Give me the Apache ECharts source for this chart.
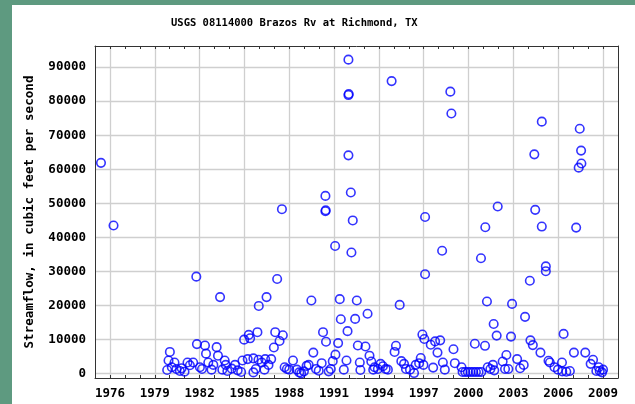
<!DOCTYPE html>
<html><head><meta charset="utf-8">
<script src="https://cdn.jsdelivr.net/npm/echarts@6/dist/echarts.min.js"></script>
<style>html,body{margin:0;padding:0;background:#fff}#c{width:635px;height:404px}</style>
</head><body><div id="c"></div>
<script>
const titleText = 'USGS 08114000 Brazos Rv at Richmond, TX';
const yAxisName = 'Streamflow, in cubic feet per second';
const yTicks = [0, 10000, 20000, 30000, 40000, 50000, 60000, 70000, 80000, 90000];
const xLabelYears = [1976, 1979, 1982, 1985, 1988, 1991, 1994, 1997, 2000, 2003, 2006, 2009];
const years = [
  1975.4, 1976.24, 1979.83, 1979.92, 1980.01, 1980.14, 1980.32, 1980.45, 1980.68, 1980.8,
  1980.99, 1981.19, 1981.35, 1981.57, 1981.78, 1981.82, 1982.02, 1982.16, 1982.36, 1982.43,
  1982.58, 1982.8, 1982.92, 1983.14, 1983.23, 1983.37, 1983.52, 1983.68, 1983.75, 1983.86,
  1984.15, 1984.37, 1984.55, 1984.78, 1984.87, 1984.98, 1985.22, 1985.29, 1985.38, 1985.6,
  1985.6, 1985.76, 1985.87, 1985.94, 1985.96, 1986.16, 1986.34, 1986.39, 1986.48, 1986.61,
  1986.79, 1986.97, 1987.06, 1987.19, 1987.35, 1987.51, 1987.57, 1987.69, 1987.84, 1988.0,
  1988.25, 1988.51, 1988.67, 1988.8, 1988.98, 1989.16, 1989.3, 1989.48, 1989.61, 1989.79,
  1989.97, 1990.17, 1990.26, 1990.42, 1990.42, 1990.44, 1990.46, 1990.64, 1990.78, 1990.91,
  1991.07, 1991.09, 1991.27, 1991.38, 1991.45, 1991.65, 1991.83, 1991.9, 1991.96, 1991.96,
  1991.98, 1991.96, 1992.12, 1992.16, 1992.25, 1992.41, 1992.52, 1992.59, 1992.72, 1992.76,
  1993.1, 1993.24, 1993.37, 1993.49, 1993.62, 1993.71, 1993.93, 1994.11, 1994.27, 1994.45,
  1994.6, 1994.85, 1995.05, 1995.14, 1995.39, 1995.5, 1995.68, 1995.81, 1996.08, 1996.35,
  1996.46, 1996.69, 1996.8, 1996.91, 1996.98, 1997.04, 1997.09, 1997.09, 1997.47, 1997.63,
  1997.76, 1997.92, 1998.1, 1998.23, 1998.28, 1998.41, 1998.78, 1998.85, 1998.99, 1999.08,
  1999.53, 1999.6, 1999.78, 1999.95, 2000.13, 2000.31, 2000.42, 2000.49, 2000.67, 2000.83,
  2000.85, 2001.1, 2001.12, 2001.23, 2001.28, 2001.46, 2001.63, 2001.68, 2001.72, 2001.88,
  2001.95, 2002.28, 2002.44, 2002.53, 2002.66, 2002.84, 2002.91, 2003.25, 2003.45, 2003.69,
  2003.78, 2004.1, 2004.14, 2004.3, 2004.4, 2004.46, 2004.81, 2004.9, 2004.9, 2005.17,
  2005.17, 2005.35, 2005.44, 2005.75, 2005.98, 2006.25, 2006.27, 2006.36, 2006.54, 2006.78,
  2007.05, 2007.2, 2007.37, 2007.44, 2007.53, 2007.55, 2007.81, 2008.17, 2008.33, 2008.55,
  2008.71, 2008.78, 2008.93, 2009.0
];
const flows = [
  61900, 43500, 1100, 3900, 6400, 1900, 3300, 1400, 800, 1600,
  600, 3300, 2500, 3300, 28500, 8700, 1900, 1400, 8300, 5900,
  3300, 1200, 2600, 7800, 5300, 22500, 1200, 3900, 2600, 800,
  1500, 2600, 1000, 500, 3900, 10000, 4300, 11400, 10400, 4500,
  400, 1400, 12200, 4100, 19900, 3300, 1200, 4300, 22500, 2600,
  4300, 7700, 12200, 27800, 9600, 48300, 11300, 1900, 1400, 1200,
  3900, 1200, 400, 100, 700, 2300, 2600, 21500, 6200, 1400,
  900, 3100, 12200, 52200, 47700, 48000, 9400, 700, 1400, 3700,
  37500, 5600, 9000, 21900, 16000, 1200, 3900, 12500, 92200, 81800,
  82100, 64100, 53200, 35600, 45000, 16100, 21500, 8300, 3300, 1100,
  8000, 17600, 5300, 3600, 1200, 1900, 1400, 2900, 2200, 1400,
  1200, 85900, 6400, 8200, 20200, 3700, 2900, 1400, 1200, 200,
  2600, 3100, 4600, 11500, 2600, 10200, 46000, 29200, 8500, 1800,
  9500, 6200, 9800, 36100, 3300, 1200, 82800, 76400, 7200, 3100,
  1900, 500, 500, 500, 500, 500, 8800, 500, 500, 33900,
  500, 8200, 43000, 21200, 1900, 1400, 2600, 14600, 1000, 11200,
  49100, 3600, 1400, 5500, 1400, 10900, 20500, 4300, 1600, 2600,
  16700, 27300, 9800, 8400, 64400, 48100, 6200, 74000, 43200, 31500,
  30100, 3800, 3300, 1900, 1200, 3300, 700, 11700, 600, 800,
  6200, 42900, 60500, 71900, 65500, 61700, 6200, 2900, 4100, 800,
  1900, 800, 400, 1200
];

const points = years.map((y, i) => [y, flows[i]]);
const axisLineStyle = { color: '#333', width: 1 };
const chart = echarts.init(document.getElementById('c'), null, { renderer: 'canvas' });
chart.setOption({
  animation: false,
  backgroundColor: '#fff',
  graphic: [
    { type: 'rect', left: 0, top: 0, shape: { width: 635, height: 5 }, style: { fill: '#5e9a80' }, silent: true },
    { type: 'rect', left: 0, top: 0, shape: { width: 12, height: 404 }, style: { fill: '#5e9a80' }, silent: true }
  ],
  title: {
    text: titleText,
    left: 171, top: 18, padding: 0,
    textStyle: { fontSize: 10.5, fontFamily: 'DejaVu Sans Mono', fontWeight: 'bold', color: '#000' }
  },
  grid: { left: 95, top: 46, right: 17, bottom: 26, containLabel: false },
  xAxis: [{
    type: 'value', min: 1975, max: 2010, interval: 1,
    axisLine: { show: true, onZero: false, lineStyle: axisLineStyle },
    axisTick: { show: true, inside: true, length: 3, lineStyle: { color: '#333' } },
    axisLabel: {
      margin: 9, fontSize: 12.5, fontFamily: 'DejaVu Sans Mono', fontWeight: 'bold', color: '#000',
      formatter: v => (xLabelYears.indexOf(Math.round(v)) >= 0 ? String(Math.round(v)) : '')
    },
    splitLine: { show: true, lineStyle: { color: ['rgba(0,0,0,0)', '#cfcfcf', 'rgba(0,0,0,0)'], width: 1.3 } }
  }, {
    type: 'value', position: 'top', min: 1975, max: 2010, interval: 1,
    axisLine: { show: true, onZero: false, lineStyle: axisLineStyle },
    axisTick: { show: true, inside: true, length: 3, lineStyle: { color: '#333' } },
    axisLabel: { show: false }, splitLine: { show: false }
  }],
  yAxis: [{
    type: 'value', min: -1250, max: 96200,
    name: yAxisName, nameLocation: 'middle', nameGap: 59,
    nameTextStyle: { fontSize: 12.6, fontFamily: 'DejaVu Sans Mono', fontWeight: 'bold', color: '#000' },
    axisLine: { show: true, onZero: false, lineStyle: axisLineStyle },
    axisTick: { show: false, customValues: yTicks },
    axisLabel: {
      margin: 9, fontSize: 12.5, fontFamily: 'DejaVu Sans Mono', fontWeight: 'bold', color: '#000',
      customValues: yTicks, formatter: v => String(v)
    },
    splitLine: { show: true, lineStyle: { color: '#cfcfcf', width: 1.3 } }
  }, {
    type: 'value', position: 'right', min: -1250, max: 96200,
    axisLine: { show: true, onZero: false, lineStyle: axisLineStyle },
    axisTick: { show: false }, axisLabel: { show: false }, splitLine: { show: false }
  }],
  series: [{
    type: 'scatter', xAxisIndex: 0, yAxisIndex: 0,
    data: points,
    symbol: 'circle', symbolSize: 8.5,
    itemStyle: { color: 'rgba(0,0,0,0)', borderColor: '#0000ff', borderWidth: 1.6 }
  }]
});
</script></body></html>
